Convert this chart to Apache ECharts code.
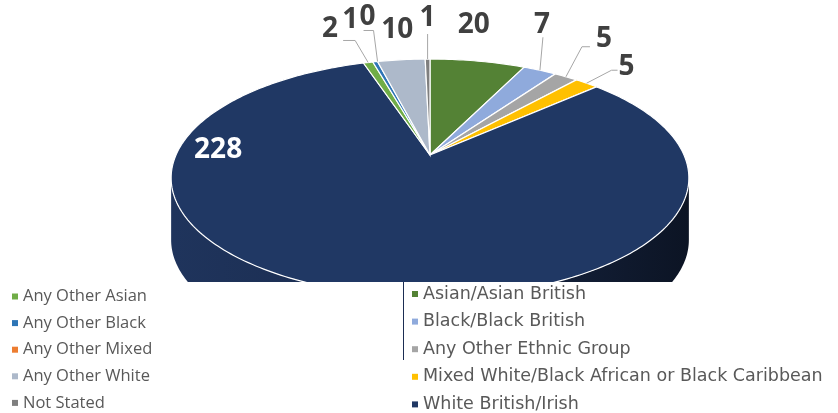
<!DOCTYPE html>
<html>
<head>
<meta charset="utf-8">
<script src="https://cdn.jsdelivr.net/npm/echarts@6.0.0/dist/echarts.min.js"></script>
<style>
  html, body { margin:0; padding:0; background:#fff; }
  #chart { width:838px; height:413px; }
</style>
</head>
<body>
<div id="chart"></div>
<script>
// slices in drawing order, clockwise from 12 o'clock
var categories = ['Asian/Asian British', 'Black/Black British', 'Any Other Ethnic Group',
  'Mixed White/Black African or Black Caribbean', 'White British/Irish', 'Any Other Asian',
  'Any Other Black', 'Any Other Mixed', 'Any Other White', 'Not Stated'];
var values = [20, 7, 5, 5, 228, 2, 1, 0, 10, 1];
var legendLeft = ['Any Other Asian', 'Any Other Black', 'Any Other Mixed', 'Any Other White', 'Not Stated'];
var legendRight = ['Asian/Asian British', 'Black/Black British', 'Any Other Ethnic Group',
  'Mixed White/Black African or Black Caribbean', 'White British/Irish'];

var colors = ['#548235', '#8faadc', '#a5a5a5', '#ffc000', '#203864',
  '#70ad47', '#2e75b6', '#ed7d31', '#adb9ca', '#7f7f7f'];

// tilted pie: centre, radii, perspective factor, wall depth
var CX = 430, CY = 155, RX = 254, RY = 114.5, K = 0.193, DEPTH = 62;
var SIDE_FROM = Math.acos(-K) * 180 / Math.PI;
var SIDE_TO = 360 - SIDE_FROM;

// label centre offset from the rim point, leader points relative to label centre
var labelLayout = [
  {dx: -4, dy: -36},
  {dx: 2, dy: -45, leader: [[1, 12]]},
  {dx: 38, dy: -38, leader: [[-22, 8], [-14, 8]]},
  {dx: 40, dy: -16, leader: [[-15, 3], [-9, 3]]},
  {angle: 268, r: 0.83, dx: 0, dy: -8, inside: true},
  {dx: -38, dy: -33, leader: [[25, 11], [13, 11]]},
  {dx: -25, dy: -42},
  {dx: -10, dy: -44, leader: [[6, 13], [-4, 13]]},
  {dx: -4, dy: -30},
  {dx: 0, dy: -41, leader: [[0, 16]]}
];

var total = values.reduce(function (a, b) { return a + b; }, 0);
var startAngle = [];
var acc = 0;
values.forEach(function (v) { startAngle.push(acc * 360 / total); acc += v; });

function project(deg, r) {
  var t = deg * Math.PI / 180;
  var u = r * Math.sin(t), v = -r * Math.cos(t);
  var d = 1 - K * v;
  return [CX + RX * u / d, CY + RY * v / d];
}

function arc(a0, a1) {
  var pts = [];
  var n = Math.max(1, Math.ceil(a1 - a0));
  for (var j = 0; j <= n; j++) pts.push(project(a0 + (a1 - a0) * j / n, 1));
  return pts;
}

function renderSlice(params, api) {
  var i = params.seriesIndex;
  var a0 = startAngle[i];
  var a1 = a0 + api.value(0) * 360 / total;
  var children = [];

  // visible front wall
  var s0 = Math.max(a0, SIDE_FROM), s1 = Math.min(a1, SIDE_TO);
  if (s1 > s0) {
    var top = arc(s0, s1);
    var bottom = top.map(function (p) { return [p[0], p[1] + DEPTH]; }).reverse();
    children.push({
      type: 'polygon', z2: 0,
      shape: {points: top.concat(bottom)},
      style: {
        fill: new echarts.graphic.LinearGradient(172, 0, 688, 0, [
          {offset: 0, color: '#1f345c'}, {offset: 0.45, color: '#1a2b4e'},
          {offset: 1, color: '#0c1424'}], true),
        stroke: null
      }
    });
  }

  if (a1 > a0) {
    children.push({
      type: 'polygon', z2: 10,
      shape: {points: [[CX, CY]].concat(arc(a0, a1))},
      style: {fill: colors[i], stroke: '#fff', lineWidth: 1.2}
    });
  }

  var lay = labelLayout[i];
  var p = project(lay.angle != null ? lay.angle : (a0 + a1) / 2, lay.r || 1);
  var lx = p[0] + lay.dx, ly = p[1] + lay.dy;
  if (lay.leader) {
    var pts = [p].concat(lay.leader.map(function (o) { return [lx + o[0], ly + o[1]]; }));
    children.push({
      type: 'polyline', z2: 15,
      shape: {points: pts},
      style: {stroke: '#a6a6a6', lineWidth: 1, fill: null}
    });
  }
  children.push({
    type: 'text', z2: 20,
    style: {
      text: String(api.value(0)), x: lx, y: ly,
      fill: lay.inside ? '#ffffff' : '#404040',
      fontSize: 28, fontWeight: 'bold', fontFamily: 'Open Sans',
      align: 'center', verticalAlign: 'middle'
    }
  });
  return {type: 'group', children: children};
}

var legendBase = {
  orient: 'vertical', icon: 'rect', itemWidth: 6, itemHeight: 6, itemGap: 9.6,
  height: 140, padding: 0, selectedMode: false, z: 60
};

var myChart = echarts.init(document.getElementById('chart'));
myChart.setOption({
  animation: false,
  color: colors,
  legend: [
    Object.assign({data: legendLeft, left: 12, top: 288,
      textStyle: {color: '#595959', fontSize: 16.5, fontFamily: 'Open Sans', lineHeight: 16}}, legendBase),
    Object.assign({data: legendRight, left: 412, top: 285,
      textStyle: {color: '#595959', fontSize: 17.5, fontFamily: 'DejaVu Sans', lineHeight: 16}}, legendBase)
  ],
  graphic: [
    {type: 'rect', z: 50, left: 0, top: 282, shape: {width: 838, height: 131}, style: {fill: '#fff'}},
    {type: 'rect', z: 51, left: 403, top: 282, shape: {width: 1, height: 78}, style: {fill: '#1b2d52'}}
  ],
  series: categories.map(function (name, i) {
    return {
      name: name,
      type: 'custom',
      coordinateSystem: 'none',
      itemStyle: {color: colors[i]},
      renderItem: renderSlice,
      data: [[values[i]]]
    };
  })
});
</script>
</body>
</html>
